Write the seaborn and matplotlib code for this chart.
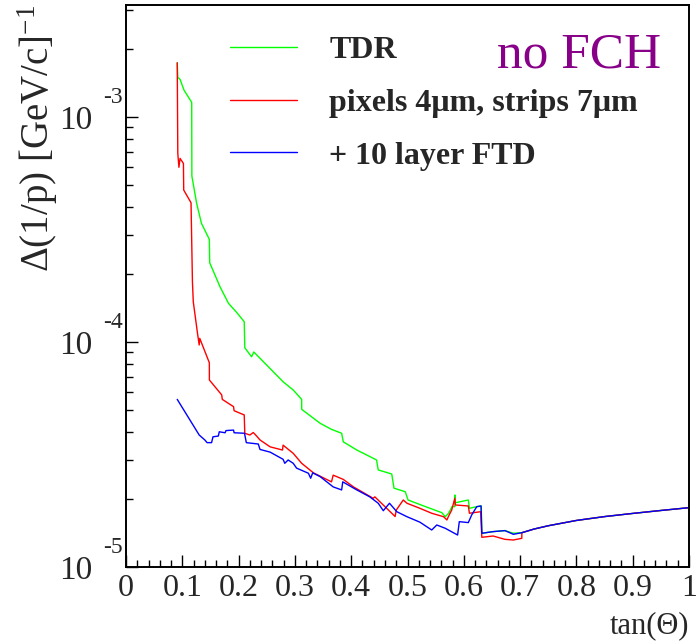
"""
Momentum resolution vs tan(theta), three detector configurations, no FCH
"""

# %% Imports
import numpy as np
import pandas as pd
import seaborn as sns
from matplotlib import pyplot as plt
from matplotlib.ticker import MultipleLocator, FuncFormatter, LogLocator, NullFormatter

# %% Data (y values in units of 1e-5 GeV/c^-1)
SERIES = ["TDR", "pixels 4\u03bcm, strips 7\u03bcm", "+ 10 layer FTD"]
COLORS = ["#00ff00", "#ff0000", "#0000ff"]

tdr_x = [0.091, 0.092, 0.096, 0.103, 0.1167, 0.117, 0.1255, 0.134, 0.148, 0.1487,
         0.167, 0.182, 0.197, 0.210, 0.211, 0.223, 0.227, 0.279, 0.297, 0.312,
         0.3121, 0.345, 0.365, 0.383, 0.386, 0.410, 0.445, 0.448, 0.472, 0.476,
         0.496, 0.501, 0.522, 0.540, 0.561, 0.567, 0.573, 0.579, 0.584, 0.5842,
         0.585, 0.608, 0.610, 0.623, 0.631, 0.632, 0.652, 0.673, 0.688, 0.703]
tdr_y = [174.3, 150.1, 147.1, 131.8, 116.2, 54.7, 41.3, 33.7, 28.6, 22.5,
         17.6, 14.86, 13.5, 12.31, 9.43, 8.60, 9.03, 6.66, 6.12, 5.56,
         5.02, 4.35, 4.09, 3.93, 3.60, 3.31, 2.99, 2.70, 2.59, 2.24,
         2.16, 1.985, 1.895, 1.823, 1.743, 1.673, 1.733, 1.854, 1.854, 2.09,
         1.93, 1.985, 1.823, 1.854, 1.867, 1.412, 1.436, 1.451, 1.412, 1.42]

pix_x = [0.091, 0.092, 0.094, 0.096, 0.102, 0.1025, 0.1155, 0.117, 0.118, 0.1195,
         0.127, 0.130, 0.131, 0.148, 0.1481, 0.170, 0.171, 0.191, 0.192, 0.210,
         0.211, 0.220, 0.226, 0.232, 0.238, 0.256, 0.278, 0.279, 0.297, 0.312,
         0.333, 0.365, 0.368, 0.386, 0.404, 0.439, 0.442, 0.463, 0.478, 0.480,
         0.4925, 0.499, 0.522, 0.543, 0.564, 0.570, 0.5725, 0.5785, 0.584, 0.585,
         0.608, 0.610, 0.630, 0.632, 0.652, 0.673, 0.688, 0.703, 0.7031]
pix_y = [174.3, 69.0, 59.8, 65.5, 62.2, 47.4, 41.6, 25.6, 18.53, 15.1,
         10.93, 9.70, 10.38, 8.09, 6.78, 5.82, 5.56, 5.16, 4.95, 4.74,
         3.93, 3.86, 3.96, 3.82, 3.67, 3.42, 3.31, 3.48, 3.20, 2.89,
         2.62, 2.39, 2.56, 2.45, 2.27, 2.02, 2.05, 1.823, 1.676, 1.79,
         1.985, 1.92, 1.823, 1.733, 1.673, 1.618, 1.673, 1.79, 2.02, 1.886,
         1.867, 1.733, 1.761, 1.355, 1.373, 1.327, 1.318, 1.341, 1.42]

ftd_x = [0.091, 0.130, 0.140, 0.144, 0.152, 0.1545, 0.164, 0.1657, 0.176, 0.1776,
         0.191, 0.192, 0.2105, 0.2137, 0.235, 0.238, 0.256, 0.279, 0.282, 0.288,
         0.297, 0.303, 0.324, 0.328, 0.3316, 0.345, 0.368, 0.383, 0.385, 0.410,
         0.433, 0.448, 0.457, 0.468, 0.481, 0.499, 0.522, 0.543, 0.552, 0.567,
         0.589, 0.592, 0.608, 0.614, 0.623, 0.6306, 0.632, 0.652, 0.673, 0.688,
         0.703]
ftd_y = [5.56, 3.86, 3.67, 3.57, 3.57, 3.79, 3.82, 3.99, 3.95, 4.04,
         4.06, 3.95, 3.93, 3.57, 3.52, 3.33, 3.24, 3.01, 2.89, 2.99,
         2.89, 2.75, 2.61, 2.48, 2.62, 2.52, 2.27, 2.20, 2.39, 2.20,
         2.05, 1.92, 1.779, 1.92, 1.761, 1.673, 1.582, 1.46, 1.537, 1.486,
         1.387, 1.59, 1.575, 1.703, 1.854, 1.867, 1.412, 1.436, 1.451, 1.397,
         1.42]

# shared by all three configurations beyond tan(theta) ~ 0.7
tail_x = [0.725, 0.75, 0.80, 0.85, 0.90, 0.95, 1.0]
tail_y = [1.475, 1.525, 1.61, 1.675, 1.73, 1.783, 1.835]

# %% Build long-form frame
dfs = []
for name, xs, ys in zip(SERIES, [tdr_x, pix_x, ftd_x], [tdr_y, pix_y, ftd_y]):
    x = np.array(xs + tail_x)
    y = np.array(ys + tail_y) * 1e-5
    dfs.append(pd.DataFrame({"tan_theta": x, "dinvp": y, "config": name}))
df = pd.concat(dfs, ignore_index=True)

# %% Style
sns.set_style("ticks")
plt.rcParams["font.family"] = ["Liberation Serif", "DejaVu Serif"]
plt.rcParams["mathtext.fontset"] = "custom"
plt.rcParams["mathtext.rm"] = "Liberation Serif"
plt.rcParams["mathtext.it"] = "Liberation Serif:italic"

fig = plt.figure(figsize=(7, 6.44), dpi=100)
ax = fig.add_axes([0.18, 0.1196, 0.8043, 0.8727])

sns.lineplot(
    data=df,
    x="tan_theta",
    y="dinvp",
    hue="config",
    hue_order=SERIES,
    palette=COLORS,
    estimator=None,
    sort=False,
    linewidth=1.0,
    legend=False,
    ax=ax,
)

ax.set_yscale("log")
ax.set_xlim(0, 1)
ax.set_ylim(1e-5, 3.15e-3)

# axes frame, ROOT-like
for sp in ax.spines.values():
    sp.set_linewidth(1.4)
    sp.set_color("k")
ax.xaxis.set_major_locator(MultipleLocator(0.1))
ax.xaxis.set_minor_locator(MultipleLocator(0.02))
ax.xaxis.set_major_formatter(FuncFormatter(lambda v, p: f"{v:g}"))
ax.yaxis.set_major_locator(LogLocator(base=10))
ax.yaxis.set_minor_locator(LogLocator(base=10, subs=np.arange(2, 10)))
ax.yaxis.set_major_formatter(FuncFormatter(lambda v, p: "10"))
ax.yaxis.set_minor_formatter(NullFormatter())
ax.tick_params(which="both", direction="in", top=False, right=False, width=1.0, color="k")
ax.tick_params(which="major", length=8.6)
ax.tick_params(which="minor", length=4.7)
ax.tick_params(axis="x", which="major", labelsize=23, pad=5)
ax.tick_params(axis="y", which="major", labelsize=24, pad=24)

# ROOT-style exponents on decade labels
for e in [-5, -4, -3]:
    ax.annotate(
        f"{e}",
        xy=(0, 10.0**e),
        xycoords=ax.get_yaxis_transform(),
        xytext=(-2, 10),
        textcoords="offset points",
        ha="right",
        va="baseline",
        fontsize=17,
    )

ax.set_xlabel("tan(\u0398)", loc="right", fontsize=22, labelpad=6)
ax.set_ylabel(r"$\Delta$(1/p) [GeV/c]$^{-1}$", loc="top", fontsize=28)
ax.yaxis.set_label_coords(-0.118, 1.0)

leg = ax.legend(
    ax.get_lines()[:3],
    SERIES,
    loc="upper left",
    bbox_to_anchor=(0.185, 0.945),
    frameon=False,
    prop={"weight": "bold", "size": 23},
    handlelength=2.1,
    handletextpad=1.0,
    labelspacing=0.73,
    borderaxespad=0,
    borderpad=0,
)

ax.text(0.659, 0.888, "no FCH", transform=ax.transAxes, color="#880088", fontsize=37, va="baseline")

fig.savefig("out.png", dpi=100)
